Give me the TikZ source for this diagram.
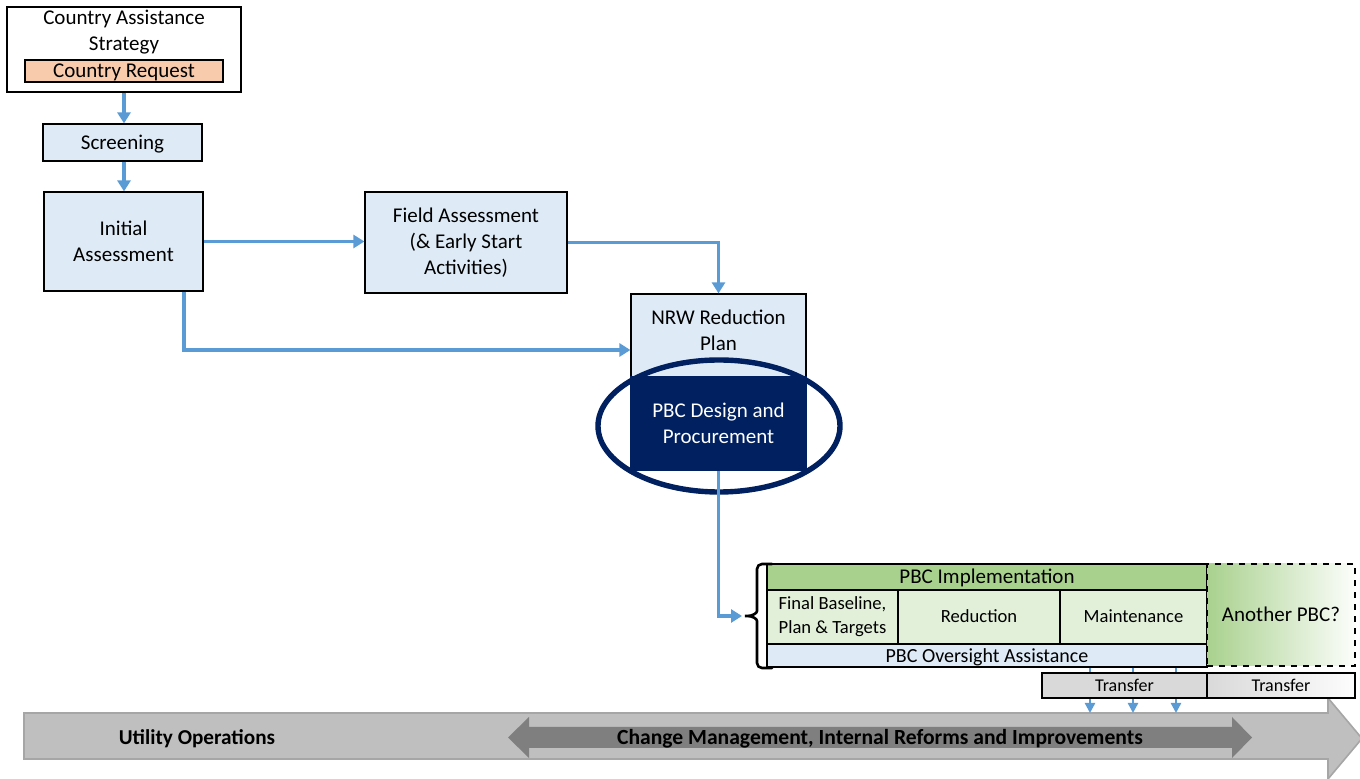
\documentclass[tikz,border=0pt]{standalone}
\usepackage{fontspec}
\setmainfont{Carlito}
\usetikzlibrary{arrows.meta,shadings}
\definecolor{lblue}{HTML}{DEEBF7}
\definecolor{ablue}{HTML}{5B9BD5}
\definecolor{orng}{HTML}{F8CBAD}
\definecolor{navy}{HTML}{002060}
\definecolor{grn}{HTML}{A9D18E}
\definecolor{lgrn}{HTML}{E2F0D9}
\definecolor{gry}{HTML}{D9D9D9}
\definecolor{bigarr}{HTML}{BFBFBF}
\definecolor{bigedge}{HTML}{A6A6A6}
\definecolor{darkarr}{HTML}{7F7F7F}
\begin{document}
\begin{tikzpicture}[x=0.5pt,y=-0.5pt,
  box/.style={draw=black,line width=0.6pt,inner sep=0pt,align=center,font=\fontsize{10.5}{13}\selectfont},
  flow/.style={draw=ablue,line width=1.8pt,-{Triangle[length=5.5pt,width=6.5pt]}},
  small/.style={font=\fontsize{9.3}{12}\selectfont},
  one/.style={text height=8pt,text depth=1.2pt},
  onesm/.style={text height=7pt,text depth=1.1pt},
  txt/.style={inner sep=0pt,align=center,font=\fontsize{10.5}{13}\selectfont}]
\useasboundingbox (0,0) rectangle (1360,779);
% big arrow
\path[fill=bigarr,draw=bigedge,line width=0.8pt] (24,713) -- (1328,713) -- (1328,698) -- (1362,738.5) -- (1328,779) -- (1328,759) -- (24,759) -- cycle;
\path[fill=darkarr] (508,737.5) -- (529,717) -- (529,727) -- (1232,727) -- (1232,717) -- (1252,737.5) -- (1232,758) -- (1232,748) -- (529,748) -- (529,758) -- cycle;
\node[txt,one,font=\fontsize{10.6}{13}\selectfont\bfseries] (util) at (197,738) {Utility Operations};
\node[txt,one,font=\fontsize{10.8}{13}\selectfont\bfseries] (chg) at (880,738) {Change Management, Internal Reforms and Improvements};
% top boxes
\node[box,fill=white,minimum width=117pt,minimum height=42.5pt] (cas) at (124,49.5) {};
\node[txt] (cast) at (124,32.5) {Country Assistance\\Strategy};
\node[box,one,fill=orng,minimum width=99pt,minimum height=11pt] (req) at (124,71) {Country Request};
\node[box,one,fill=lblue,minimum width=79.5pt,minimum height=18.5pt] (scr) at (122.5,142.5) {Screening};
\node[box,fill=lblue,minimum width=79.5pt,minimum height=49.5pt] (init) at (123.5,241.5) {Initial\\Assessment};
\node[box,fill=lblue,minimum width=101pt,minimum height=50.5pt] (field) at (466,242.5) {Field Assessment\\(\& Early Start\\Activities)};
\node[box,fill=lblue,minimum width=87.5pt,minimum height=41.5pt,text depth=5pt] (nrw) at (718.5,335.5) {NRW Reduction\\Plan};
\node[box,fill=navy,draw=navy,text=white,minimum width=87.5pt,minimum height=46.5pt] (pbcd) at (718.5,423.5) {PBC Design and\\Procurement};
\draw[navy,line width=2.7pt] (719,426) ellipse [x radius=121, y radius=66];
% implementation block
\node[box,one,fill=grn,minimum width=220pt,minimum height=13pt] (impl) at (987,577) {PBC Implementation};
\node[box,small,fill=lgrn,minimum width=65.5pt,minimum height=27pt] (fb) at (832.5,617) {Final Baseline,\\Plan \& Targets};
\node[box,small,onesm,fill=lgrn,minimum width=81pt,minimum height=27pt] (red) at (979,617) {Reduction};
\node[box,small,onesm,fill=lgrn,minimum width=73.5pt,minimum height=27pt] (maint) at (1133.5,617) {Maintenance};
\node[box,one,fill=lblue,minimum width=220pt,minimum height=11.5pt,font=\fontsize{10}{12}\selectfont] (over) at (987,655.5) {PBC Oversight Assistance};
\node[box,one,dashed,left color=grn,right color=white!90!lgrn,minimum width=74pt,minimum height=51pt] (another) at (1281,615) {Another PBC?};
% brace
\coordinate (bt) at (742,616);
\draw[black,line width=1.3pt,line cap=round,rounded corners=2.5pt] (772,564) -- (757,564) -- (757,606)
  .. controls (757,613) and (753,616) .. (bt) .. controls (753,616) and (757,619) .. (757,626) -- (757,668) -- (772,668);
% transfer arrows
\coordinate (u1) at (1090,713);
\coordinate (u2) at (1133,713);
\coordinate (u3) at (1176,713);
\foreach \u in {u1,u2,u3}
  \draw[draw=ablue,line width=1.2pt,-{Triangle[length=5pt,width=5pt]}] (over.south -| \u) -- (\u);
\node[box,onesm,font=\fontsize{9}{11}\selectfont,fill=gry,minimum width=82.5pt,minimum height=12.5pt] (tr1) at (1124.5,685.5) {Transfer};
\node[box,onesm,font=\fontsize{9}{11}\selectfont,left color=gry,right color=white!95!gry,minimum width=74pt,minimum height=12.5pt] (tr2) at (1281,685.5) {Transfer};
% connectors
\draw[flow] (cas.south) -- (cas.south |- scr.north);
\draw[flow] (scr.south -| cas.south) -- (init.north -| cas.south);
\draw[flow] (init.east) -- (init.east -| field.west);
\draw[flow] (field.east) -| (nrw.north);
\coordinate (a1) at (184,350);
\draw[flow] (init.south -| a1) |- (nrw.west |- a1);
\draw[flow] (pbcd.south) |- (bt);
\end{tikzpicture}
\end{document}
